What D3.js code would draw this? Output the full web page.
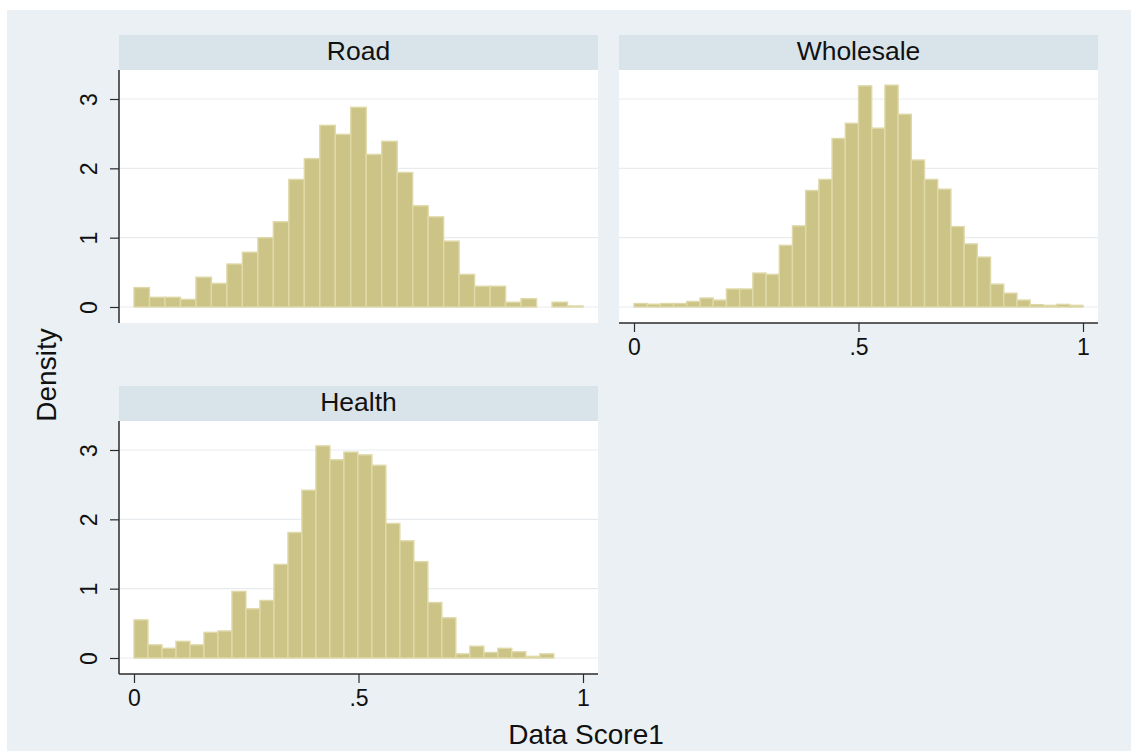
<!DOCTYPE html>
<html>
<head>
<meta charset="utf-8">
<script src="https://cdn.jsdelivr.net/npm/d3@7"></script>
<style>
  html, body { margin: 0; padding: 0; background: #ffffff; }
  svg { display: block; font-family: "Liberation Sans", Arial, Helvetica, sans-serif; }
</style>
</head>
<body>
<svg id="chart" width="1131" height="751"></svg>
<script>
// Histogram densities of Data Score1 by sector (equal-width bins)
const panelNames = ["Road", "Wholesale", "Health"];

const roadDensity = [0.28, 0.14, 0.14, 0.11, 0.43, 0.34, 0.62, 0.79, 1.00, 1.23,
  1.84, 2.14, 2.62, 2.49, 2.88, 2.20, 2.39, 1.94, 1.46, 1.30,
  0.95, 0.47, 0.30, 0.30, 0.07, 0.12, 0.00, 0.07, 0.015];
const roadRange = [0, 1];

const wholesaleDensity = [0.05, 0.04, 0.05, 0.05, 0.08, 0.13, 0.10, 0.26, 0.26, 0.49,
  0.47, 0.89, 1.17, 1.68, 1.84, 2.43, 2.65, 3.19, 2.58, 3.20,
  2.78, 2.12, 1.84, 1.70, 1.16, 0.91, 0.72, 0.33, 0.20, 0.10,
  0.034, 0.024, 0.038, 0.024];
const wholesaleRange = [0, 1];

const healthDensity = [0.55, 0.19, 0.14, 0.24, 0.19, 0.37, 0.39, 0.96, 0.71, 0.83,
  1.35, 1.81, 2.42, 3.06, 2.86, 2.97, 2.93, 2.78, 1.94, 1.69,
  1.39, 0.80, 0.58, 0.06, 0.17, 0.08, 0.14, 0.09, 0.024, 0.06];
const healthRange = [0, 0.935];

const xTicks = [0, 0.5, 1];
const yTicks = [0, 1, 2, 3];
const xTitle = "Data Score1";
const yTitle = "Density";

const svg = d3.select("#chart");

const colors = {
  page: "#eaf0f3",
  strip: "#d9e4ea",
  plot: "#ffffff",
  grid: "#e8ecee",
  axis: "#2b2b2b",
  bar: "#ccc486",
  barEdge: "#dfd9aa",
  text: "#111111"
};

// outer graph region
svg.append("rect")
  .attr("x", 7).attr("y", 10)
  .attr("width", 1131 - 7).attr("height", 751 - 10)
  .attr("fill", colors.page);

const panelW = 479, plotH = 253, stripH = 35;
const panels = [
  { name: panelNames[0], left: 119, top: 35, data: roadDensity, range: roadRange, yAxis: true, xAxis: false },
  { name: panelNames[1], left: 619, top: 35, data: wholesaleDensity, range: wholesaleRange, yAxis: false, xAxis: true },
  { name: panelNames[2], left: 119, top: 386, data: healthDensity, range: healthRange, yAxis: true, xAxis: true }
];

panels.forEach(p => {
  const g = svg.append("g").attr("transform", `translate(${p.left},${p.top})`);
  const plotTop = stripH;
  const plotBottom = stripH + plotH;

  // header strip with the sector name
  g.append("rect")
    .attr("x", 0).attr("y", 0)
    .attr("width", panelW).attr("height", stripH)
    .attr("fill", colors.strip);
  g.append("text")
    .attr("x", panelW / 2).attr("y", 24.5)
    .attr("text-anchor", "middle")
    .attr("font-size", 26.5)
    .attr("fill", colors.text)
    .text(p.name);

  // plot region
  g.append("rect")
    .attr("x", 0).attr("y", plotTop)
    .attr("width", panelW).attr("height", plotH)
    .attr("fill", colors.plot);

  const x = d3.scaleLinear().domain([0, 1]).range([15, panelW - 15]);
  const y = d3.scaleLinear().domain([0, 3]).range([plotBottom - 16, plotBottom - 16 - 208]);

  // horizontal grid lines
  g.append("g").selectAll("line")
    .data(yTicks)
    .join("line")
    .attr("x1", 0).attr("x2", panelW)
    .attr("y1", d => y(d)).attr("y2", d => y(d))
    .attr("stroke", colors.grid)
    .attr("stroke-width", 1.2);

  // bars
  const n = p.data.length;
  const w = (p.range[1] - p.range[0]) / n;
  const bins = p.data.map((v, i) => ({ x0: p.range[0] + i * w, x1: p.range[0] + (i + 1) * w, v }));
  g.append("g").selectAll("rect")
    .data(bins.filter(b => b.v > 0))
    .join("rect")
    .attr("x", d => x(d.x0))
    .attr("width", d => x(d.x1) - x(d.x0))
    .attr("y", d => y(d.v))
    .attr("height", d => y(0) - y(d.v))
    .attr("fill", colors.bar)
    .attr("stroke", colors.barEdge)
    .attr("stroke-width", 1.4);

  if (p.yAxis) {
    const ya = g.append("g")
      .call(d3.axisLeft(y).tickValues(yTicks).tickSize(9).tickFormat(d3.format("d")));
    ya.select(".domain").remove();
    ya.selectAll(".tick line").attr("stroke", colors.axis).attr("stroke-width", 1.2);
    ya.selectAll(".tick text")
      .attr("x", null).attr("dy", null)
      .attr("transform", "translate(-22,0) rotate(-90)")
      .attr("text-anchor", "middle")
      .attr("font-size", 23)
      .attr("font-family", "Liberation Sans, Arial, sans-serif")
      .attr("fill", colors.text);
    g.append("line")
      .attr("x1", 0).attr("x2", 0)
      .attr("y1", plotTop).attr("y2", plotBottom)
      .attr("stroke", colors.axis).attr("stroke-width", 1.5);
  }

  if (p.xAxis) {
    const xa = g.append("g")
      .attr("transform", `translate(0,${plotBottom})`)
      .call(d3.axisBottom(x).tickValues(xTicks).tickSize(9)
        .tickFormat(d => String(d).replace(/^0\./, ".")));
    xa.select(".domain").remove();
    xa.selectAll(".tick line").attr("stroke", colors.axis).attr("stroke-width", 1.2);
    xa.selectAll(".tick text")
      .attr("y", 32).attr("dy", null)
      .attr("font-size", 23)
      .attr("font-family", "Liberation Sans, Arial, sans-serif")
      .attr("fill", colors.text);
    g.append("line")
      .attr("x1", 0).attr("x2", panelW)
      .attr("y1", plotBottom).attr("y2", plotBottom)
      .attr("stroke", colors.axis).attr("stroke-width", 1.5);
  }
});

// axis titles
svg.append("text")
  .attr("x", 586).attr("y", 744)
  .attr("text-anchor", "middle")
  .attr("font-size", 28)
  .attr("fill", colors.text)
  .text(xTitle);

svg.append("text")
  .attr("transform", "translate(56,375) rotate(-90)")
  .attr("text-anchor", "middle")
  .attr("font-size", 28)
  .attr("fill", colors.text)
  .text(yTitle);
</script>
</body>
</html>
